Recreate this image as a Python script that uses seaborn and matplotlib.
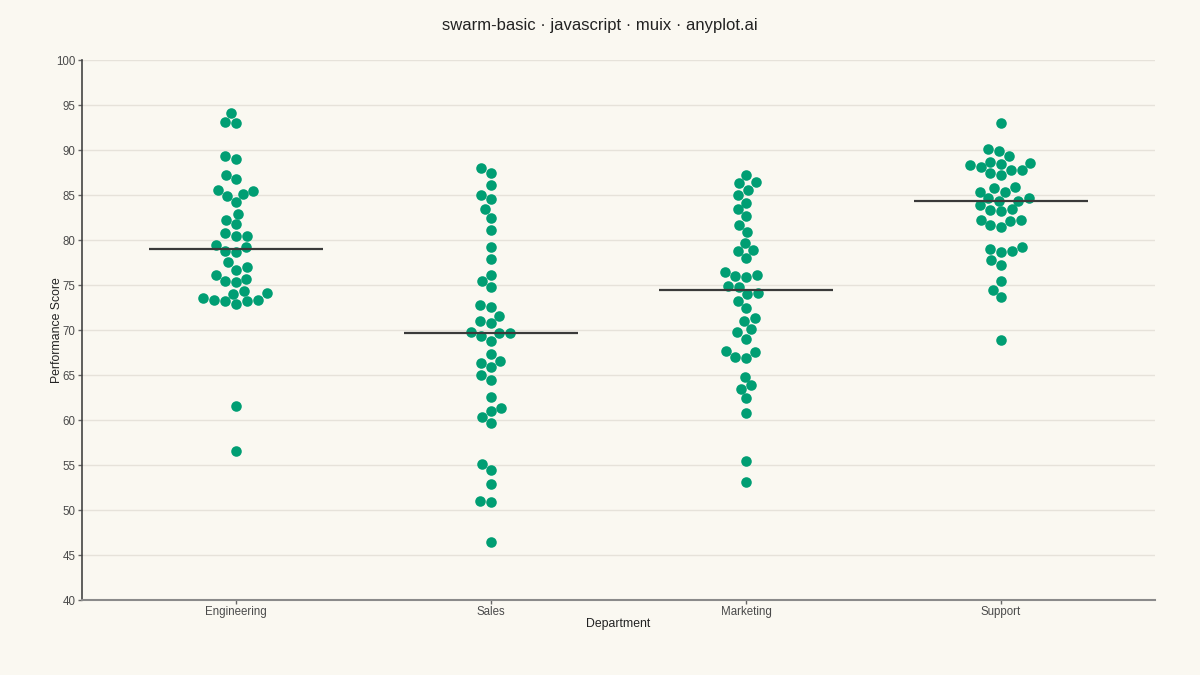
import numpy as np
import pandas as pd
import matplotlib
matplotlib.use("Agg")
import matplotlib.pyplot as plt
import seaborn as sns

departments = ["Engineering", "Sales", "Marketing", "Support"]

engineering = [94.07, 93.04, 93.08, 89.04, 89.3, 86.78, 87.19, 85.11, 85.48, 85.52,
               84.85, 84.18, 82.89, 82.19, 81.74, 80.44, 80.78, 80.48, 79.48, 79.26,
               78.7, 78.81, 77.52, 76.7, 76.96, 76.11, 75.7, 75.3, 75.44, 74.03,
               74.37, 74.07, 73.37, 73.22, 72.89, 73.22, 73.3, 73.52, 61.56, 56.59]
sales = [87.96, 87.44, 86.15, 84.56, 85.0, 83.44, 82.44, 81.11, 79.26, 77.85,
         76.07, 75.44, 74.74, 72.52, 72.78, 71.59, 71.0, 70.78, 69.74, 69.63,
         69.37, 69.63, 68.81, 67.3, 66.56, 66.3, 65.89, 64.96, 64.48, 62.52,
         61.33, 60.96, 60.3, 59.63, 55.07, 54.41, 52.89, 51.0, 50.85, 46.41]
marketing = [87.26, 86.41, 86.3, 85.56, 85.0, 84.15, 83.41, 82.63, 81.67, 80.85,
             79.7, 78.89, 78.78, 77.96, 76.07, 75.89, 76.41, 75.96, 74.85, 74.81,
             73.96, 74.07, 73.26, 72.44, 71.33, 71.04, 70.11, 69.78, 69.04, 67.7,
             67.52, 66.85, 66.96, 64.81, 63.85, 63.48, 62.44, 60.74, 55.44, 53.11]
support = [92.96, 90.15, 89.93, 89.33, 88.59, 88.07, 87.81, 88.3, 88.48, 88.7,
           87.78, 87.26, 87.41, 85.33, 85.81, 85.33, 85.85, 84.63, 84.33, 84.37,
           84.63, 83.85, 83.41, 83.18, 83.3, 82.26, 82.07, 82.26, 81.41, 81.67,
           79.0, 78.63, 79.22, 78.78, 77.22, 77.81, 75.41, 74.48, 73.67, 68.93]

y_ticks = [40, 45, 50, 55, 60, 65, 70, 75, 80, 85, 90, 95, 100]

series = {"Engineering": engineering, "Sales": sales,
          "Marketing": marketing, "Support": support}
df = pd.DataFrame([(d, v) for d in departments for v in series[d]],
                  columns=["Department", "Performance Score"])

BG = "#FAF8F1"
GRID = "#E6E2DA"
TEXT = "#4A4A4A"

sns.set_theme(style="white")
plt.rcParams["font.family"] = ["Liberation Sans", "DejaVu Sans"]

fig = plt.figure(figsize=(12, 6.75), dpi=100, facecolor=BG)
ax = fig.add_axes([0.0683, 0.1111, 0.8942, 0.8])
ax.set_facecolor(BG)

sns.swarmplot(data=df, x="Department", y="Performance Score", order=departments,
              color="#009E73", size=7.6, linewidth=0, ax=ax, zorder=3)

medians = df.groupby("Department")["Performance Score"].median().reindex(departments)
for i, m in enumerate(medians.values):
    ax.hlines(m, i - 0.34, i + 0.34, color="#3A3A3A", linewidth=1.6, zorder=4)

ax.set_xlim(-0.604, 3.604)
ax.set_ylim(40, 100)
ax.set_yticks(y_ticks)
ax.yaxis.grid(True, color=GRID, linewidth=1.0, zorder=0)
ax.xaxis.grid(False)
ax.set_axisbelow(True)

for s in ["top", "right"]:
    ax.spines[s].set_visible(False)
ax.spines["left"].set_color("#444444")
ax.spines["left"].set_linewidth(1.2)
ax.spines["bottom"].set_color("#8A8A8A")
ax.spines["bottom"].set_linewidth(1.5)

ax.tick_params(axis="both", which="both", length=3, width=1, color="#666666",
               labelcolor=TEXT, labelsize=8.3, pad=1.5, left=True, bottom=True)

ax.set_xlabel("Department", fontsize=8.8, color="#222222")
ax.set_ylabel("Performance Score", fontsize=8.8, color="#222222")
ax.xaxis.set_label_coords(0.5, -0.034)
ax.yaxis.set_label_coords(-0.0177, 0.5)

fig.suptitle("swarm-basic · javascript · muix · anyplot.ai", y=0.974,
             fontsize=12, color="#222222")

fig.savefig("out.png", dpi=100, facecolor=BG)
